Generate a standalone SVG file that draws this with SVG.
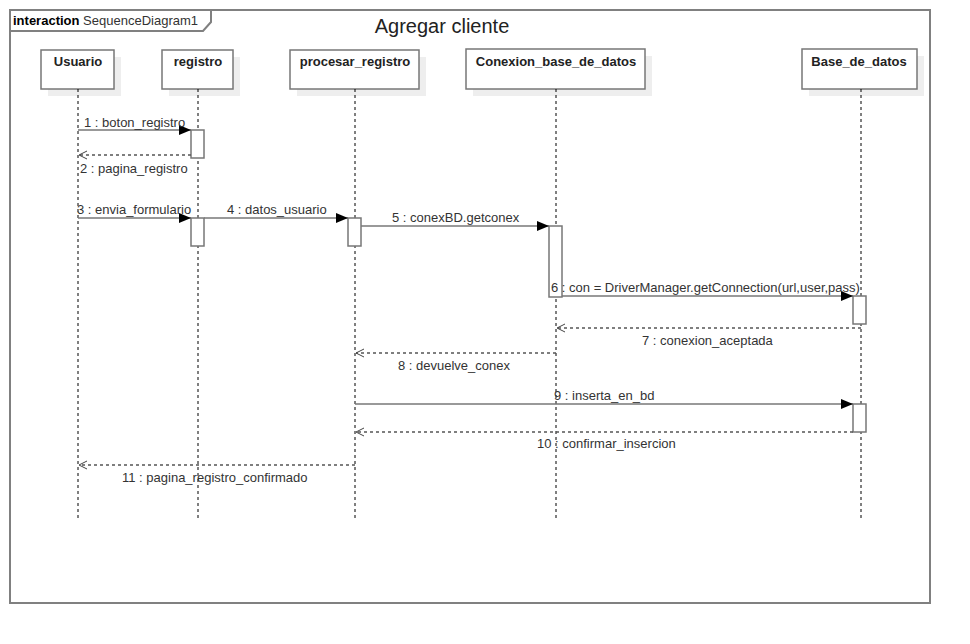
<svg xmlns="http://www.w3.org/2000/svg" width="970" height="644" viewBox="0 0 970 644">
<style>
.frame{fill:none;stroke:#808080;stroke-width:2}
.head{fill:#fff;stroke:#777;stroke-width:1.5}
.shadow{fill:#eeeeee}
.htxt{font-family:"Liberation Sans",Arial,sans-serif;font-size:13px;font-weight:bold;fill:#222;text-anchor:middle}
.life{stroke:#000;stroke-width:1;stroke-dasharray:3,3;fill:none}
.act{fill:#fff;stroke:#777;stroke-width:1.5}
.msg{stroke:#777;stroke-width:1.6;fill:none}
.ret{stroke:#555;stroke-width:1.3;stroke-dasharray:3,3;fill:none}
.lbl{font-family:"Liberation Sans",Arial,sans-serif;font-size:13px;fill:#333}
</style>
<defs>
<marker id="sync" markerWidth="12" markerHeight="10" refX="12" refY="5" orient="auto" markerUnits="userSpaceOnUse">
<path d="M0,0 L12,5 L0,10 Z" fill="#000"/>
</marker>
<marker id="open" markerWidth="10" markerHeight="10" refX="9" refY="5" orient="auto" markerUnits="userSpaceOnUse">
<path d="M1,1 L9,5 L1,9" fill="none" stroke="#444" stroke-width="1"/>
</marker>
</defs>
<rect width="970" height="644" fill="#fff"/>
<g id="frame">
<rect class="frame" x="10" y="10" width="920" height="593"/>
<path class="frame" d="M10,31 L203,31 L211,22 L211,10" stroke-width="1.2"/>
<text x="13" y="25" font-family="'Liberation Sans',Arial,sans-serif" font-size="13" fill="#000"><tspan font-weight="bold">interaction</tspan> <tspan fill="#333">SequenceDiagram1</tspan></text>
<text x="442" y="33" font-family="'Liberation Sans',Arial,sans-serif" font-size="20" fill="#222" text-anchor="middle">Agregar cliente</text>
</g>
<g id="usuario">
<rect class="shadow" x="48" y="57" width="73" height="39"/>
<rect class="head" x="41" y="50" width="73" height="39"/>
<text class="htxt" x="78" y="66">Usuario</text>
<line class="life" x1="78" y1="89" x2="78" y2="519"/>
</g>
<g id="registro">
<rect class="shadow" x="169" y="57" width="71" height="39"/>
<rect class="head" x="162" y="50" width="71" height="39"/>
<text class="htxt" x="198" y="66">registro</text>
<line class="life" x1="198" y1="89" x2="198" y2="519"/>
<rect class="act" x="191" y="130" width="13" height="28"/>
<rect class="act" x="191" y="218" width="13" height="28"/>
</g>
<g id="procesar_registro">
<rect class="shadow" x="297" y="57" width="129" height="39"/>
<rect class="head" x="290" y="50" width="129" height="39"/>
<text class="htxt" x="355" y="66">procesar_registro</text>
<line class="life" x1="355" y1="89" x2="355" y2="519"/>
<rect class="act" x="348" y="218" width="13" height="28"/>
</g>
<g id="conexion_base_de_datos">
<rect class="shadow" x="473" y="56" width="179" height="40"/>
<rect class="head" x="466" y="49" width="179" height="40"/>
<text class="htxt" x="556" y="66">Conexion_base_de_datos</text>
<line class="life" x1="556" y1="89" x2="556" y2="519"/>
<rect class="act" x="549" y="226" width="13" height="71"/>
</g>
<g id="base_de_datos">
<rect class="shadow" x="809" y="56" width="115" height="40"/>
<rect class="head" x="802" y="49" width="115" height="40"/>
<text class="htxt" x="859" y="66">Base_de_datos</text>
<line class="life" x1="861" y1="89" x2="861" y2="519"/>
<rect class="act" x="853" y="296" width="13" height="28"/>
<rect class="act" x="853" y="404" width="13" height="28"/>
</g>
<g id="connectors">
<line class="msg" x1="78" y1="130" x2="191" y2="130" marker-end="url(#sync)"/>
<text class="lbl" x="84" y="127">1 : boton_registro</text>
<line class="ret" x1="191" y1="155" x2="79" y2="155" marker-end="url(#open)"/>
<text class="lbl" x="80" y="173">2 : pagina_registro</text>
<line class="msg" x1="78" y1="218" x2="191" y2="218" marker-end="url(#sync)"/>
<text class="lbl" x="77" y="214">3 : envia_formulario</text>
<line class="msg" x1="204" y1="218" x2="348" y2="218" marker-end="url(#sync)"/>
<text class="lbl" x="227" y="214">4 : datos_usuario</text>
<line class="msg" x1="361" y1="226" x2="549" y2="226" marker-end="url(#sync)"/>
<text class="lbl" x="392" y="222">5 : conexBD.getconex</text>
<line class="msg" x1="562" y1="296" x2="853" y2="296" marker-end="url(#sync)"/>
<text class="lbl" x="551" y="292">6 : con = DriverManager.getConnection(url,user,pass)</text>
<line class="ret" x1="861" y1="328" x2="557" y2="328" marker-end="url(#open)"/>
<text class="lbl" x="642" y="345">7 : conexion_aceptada</text>
<line class="ret" x1="556" y1="353" x2="356" y2="353" marker-end="url(#open)"/>
<text class="lbl" x="398" y="370">8 : devuelve_conex</text>
<line class="msg" x1="355" y1="404" x2="853" y2="404" marker-end="url(#sync)"/>
<text class="lbl" x="554" y="400">9 : inserta_en_bd</text>
<line class="ret" x1="853" y1="432" x2="356" y2="432" marker-end="url(#open)"/>
<text class="lbl" x="537" y="448">10 : confirmar_insercion</text>
<line class="ret" x1="355" y1="465" x2="79" y2="465" marker-end="url(#open)"/>
<text class="lbl" x="122" y="482">11 : pagina_registro_confirmado</text>
</g>
</svg>
